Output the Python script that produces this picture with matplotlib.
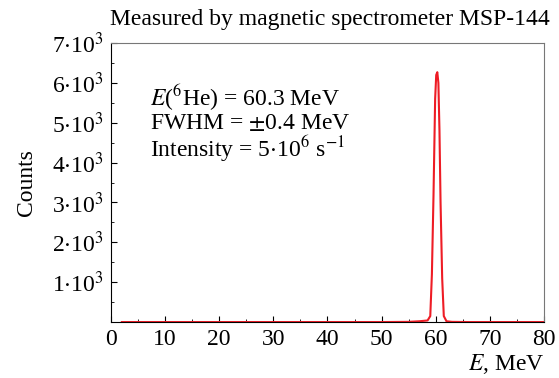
import matplotlib
matplotlib.use("Agg")
import matplotlib.pyplot as plt
from matplotlib.ticker import FixedLocator, MultipleLocator

plt.rcParams['font.family'] = ['Liberation Serif', 'DejaVu Serif']
plt.rcParams['mathtext.fontset'] = 'stix'

# spectrum (E in MeV, counts)
energy = [2, 50, 55, 57, 58.5, 59.0, 59.3, 59.6, 59.9, 60.1, 60.3, 60.5, 60.7,
          60.9, 61.2, 61.5, 62, 63, 66, 80]
counts = [0, 0, 5, 20, 40, 150, 1200, 3200, 5600, 6200, 6270, 6000, 4800,
          3000, 1100, 150, 20, 5, 0, 0]

y_ticks = [1000, 2000, 3000, 4000, 5000, 6000, 7000]
y_labels = [r"1$\cdot$10$^3$", r"2$\cdot$10$^3$", r"3$\cdot$10$^3$", r"4$\cdot$10$^3$",
            r"5$\cdot$10$^3$", r"6$\cdot$10$^3$", r"7$\cdot$10$^3$"]
info = [r"$E$($^6$He) = 60.3 MeV",
        r"FWHM = $\pm$0.4 MeV",
        r"Intensity = 5$\cdot$10$^6$ s$^{-1}$"]

fig = plt.figure(figsize=(5.59, 3.78), dpi=100)
ax = fig.add_axes([0.1986, 0.148, 0.7744, 0.738])

ax.plot(energy, counts, color='#ee1c25', lw=1.5)

ax.set_xlim(0, 80)
ax.set_ylim(0, 7000)
ax.xaxis.set_major_locator(MultipleLocator(10))
ax.xaxis.set_minor_locator(MultipleLocator(5))
ax.yaxis.set_major_locator(FixedLocator(y_ticks))
ax.set_yticklabels(y_labels)
ax.yaxis.set_minor_locator(MultipleLocator(500))
ax.tick_params(which='both', direction='in', labelsize=17, top=False, right=False)
ax.tick_params(which='major', length=4, pad=5)
ax.tick_params(which='minor', length=2.5)

for s in ['top', 'right']:
    ax.spines[s].set_color('#777777')

ax.set_ylabel("Counts", fontsize=17)
ax.yaxis.set_label_coords(-0.17, 0.5)
fig.text(0.975, 0.005, r"$E$, MeV", fontsize=17, ha='right', va='bottom')
fig.text(0.59, 0.948, "Measured by magnetic spectrometer MSP-144", fontsize=17,
         ha='center', va='center')

# three info lines as one text block
ax.text(0.09, 0.712, "\n".join(info), transform=ax.transAxes, fontsize=17,
        va='center', linespacing=1.0)

fig.savefig("out.png", dpi=100)
